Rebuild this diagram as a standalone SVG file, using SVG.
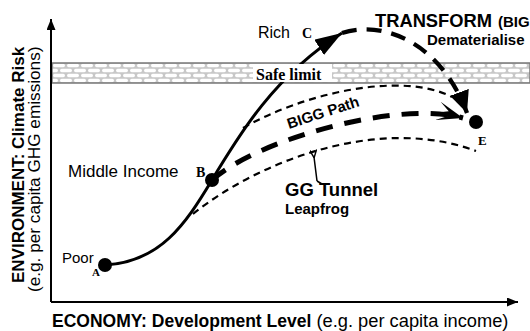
<svg xmlns="http://www.w3.org/2000/svg" width="530" height="331" viewBox="0 0 530 331">
<style>
.sans{font-family:"Liberation Sans",Arial,sans-serif;fill:#000}
.serif{font-family:"Liberation Serif","Times New Roman",serif;fill:#000;font-weight:bold}
.b{font-weight:bold}
.axis{fill:none;stroke:#000;stroke-width:2}
.solid{fill:none;stroke:#000;stroke-width:3}
.thick{fill:none;stroke:#000;stroke-width:4.3;stroke-dasharray:15 10}
.bigg{fill:none;stroke:#000;stroke-width:5;stroke-dasharray:17 12}
.thin{fill:none;stroke:#000;stroke-width:2.2;stroke-dasharray:7 5}
.dot{fill:#000}
</style>
<defs>
<pattern id="hatch" width="14" height="10" patternUnits="userSpaceOnUse" x="52" y="63">
<rect width="14" height="10" fill="#c8c8c8"/>
<rect x="1" y="0.8" width="12" height="3.4" rx="1.7" fill="#fff"/>
<rect x="-6" y="5.8" width="12" height="3.4" rx="1.7" fill="#fff"/>
<rect x="8" y="5.8" width="12" height="3.4" rx="1.7" fill="#fff"/>
</pattern>
<marker id="axArrow" viewBox="0 0 10 10" refX="10" refY="5" markerUnits="userSpaceOnUse" markerWidth="11" markerHeight="9" orient="auto" preserveAspectRatio="none">
<path d="M0,0 L10,5 L0,10 Z" fill="#000"/>
</marker>
<marker id="bigTri" viewBox="0 0 10 10" refX="10" refY="5" markerUnits="userSpaceOnUse" markerWidth="27" markerHeight="18" orient="auto" preserveAspectRatio="none">
<path d="M0,0 L10,5 L0,10 Z" fill="#000"/>
</marker>
<marker id="triE" viewBox="0 0 10 10" refX="10" refY="5" markerUnits="userSpaceOnUse" markerWidth="22" markerHeight="20" orient="auto" preserveAspectRatio="none">
<path d="M0,0 L10,5 L0,10 Z" fill="#000"/>
</marker>
<marker id="swallow" viewBox="0 0 10 10" refX="10" refY="5" markerUnits="userSpaceOnUse" markerWidth="26" markerHeight="19" orient="auto" preserveAspectRatio="none">
<path d="M10,5 L0,0 L4,3.6 L1.5,5 L4,6.4 L0,10 Z" fill="#000"/>
</marker>
<marker id="smallArrow" viewBox="0 0 10 10" refX="1" refY="5" markerUnits="userSpaceOnUse" markerWidth="8" markerHeight="7" orient="auto-start-reverse" preserveAspectRatio="none">
<path d="M10,0 L0,5 L10,10" fill="none" stroke="#000" stroke-width="2"/>
</marker>
</defs>
<rect width="530" height="331" fill="#fff"/>

<g id="safe-band">
<rect x="52" y="63" width="478" height="20" fill="url(#hatch)" stroke="#777" stroke-width="1.5"/>
</g>

<g id="axes">
<path class="axis" d="M51,302 L51,19" marker-end="url(#axArrow)"/>
<path class="axis" d="M51,302 L518,302" marker-end="url(#axArrow)"/>
</g>

<g id="connectors">
<path class="solid" d="M105,265 C160,262 185,225 212,180 S275,75 342,33" marker-end="url(#bigTri)"/>
<path class="thick" d="M342,33 C380,20 440,40 467,113" marker-end="url(#triE)"/>
<path class="bigg" d="M212,180 C260,138 400,100 463,118" marker-end="url(#swallow)"/>
<path class="thin" d="M243,128 C300,95 400,70 452,97"/>
<path class="thin" d="M193,214 C260,160 380,115 476,151"/>
<path d="M317,181 L322,184" fill="none" stroke="#000" stroke-width="1.5"/>
<path d="M317,181 L314,157" fill="none" stroke="#000" stroke-width="1.5" marker-end="url(#smallArrow)"/>
</g>

<g id="safe-label">
<rect x="253" y="64" width="79" height="18" fill="#fff"/>
<text class="serif" x="256" y="80" font-size="16">Safe limit</text>
</g>

<g id="node-A">
<circle class="dot" cx="105" cy="265" r="7"/>
<text class="sans" x="62" y="263" font-size="15">Poor</text>
<text class="serif" x="92" y="276" font-size="11">A</text>
</g>

<g id="node-B">
<circle class="dot" cx="212" cy="180" r="7"/>
<text class="sans" x="68" y="177" font-size="17">Middle Income</text>
<text class="serif" x="196" y="177" font-size="14">B</text>
</g>

<g id="node-C">
<text class="sans" x="258" y="38" font-size="16">Rich</text>
<text class="serif" x="302" y="38" font-size="14">C</text>
</g>

<g id="node-E">
<circle class="dot" cx="476" cy="122" r="7"/>
<text class="serif" x="478" y="145" font-size="13">E</text>
</g>

<g id="transform-label">
<text class="sans b" x="375" y="27" font-size="19" textLength="117" lengthAdjust="spacingAndGlyphs">TRANSFORM</text>
<text class="sans b" x="498" y="27" font-size="15">(BIG</text>
<text class="sans b" x="427" y="45" font-size="15">Dematerialise</text>
</g>

<g id="bigg-label">
<text class="sans b" font-size="15" transform="translate(289,129) rotate(-18)">BIGG Path</text>
</g>

<g id="tunnel-label">
<text class="sans b" x="285" y="196" font-size="18.5">GG Tunnel</text>
<text class="sans b" x="285" y="214" font-size="15">Leapfrog</text>
</g>

<g id="axis-labels">
<text class="sans" x="52" y="327" font-size="17.5"><tspan class="b">ECONOMY: Development Level</tspan><tspan font-size="18.3"> (e.g. per capita income)</tspan></text>
<text class="sans b" font-size="17" transform="translate(24,283) rotate(-90)">ENVIRONMENT: Climate Risk</text>
<text class="sans" font-size="17.2" transform="translate(40,292) rotate(-90)">(e.g. per capita GHG emissions)</text>
</g>
</svg>
